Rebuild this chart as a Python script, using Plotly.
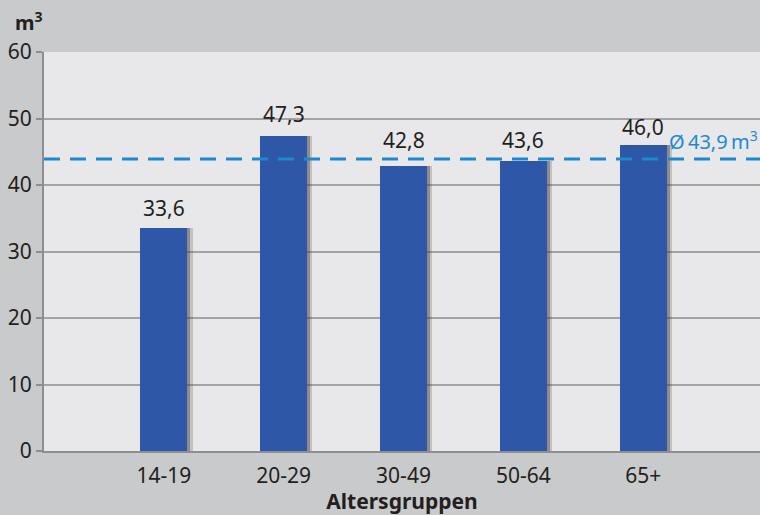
import plotly.graph_objects as go

categories = ["14-19", "20-29", "30-49", "50-64", "65+"]
values = [33.6, 47.3, 42.8, 43.6, 46.0]
labels = ["33,6", "47,3", "42,8", "43,6", "46,0"]
average = 43.9
average_label = "Ø\u200943,9\u2009m<sup>3</sup>"
y_ticks = [0, 10, 20, 30, 40, 50, 60]

# style: pixel gap between bar top and its value label
label_gaps_px = [4, 6, 10, 5, 2]

FONT = "Noto Sans"
BAR_W = 0.39

fig = go.Figure()
# soft shadow (two layers)
fig.add_trace(go.Bar(
    x=categories, y=values, width=BAR_W, offset=-BAR_W / 2 + 0.045,
    marker=dict(color="rgba(60,60,60,0.22)", line=dict(width=0)),
    hoverinfo="skip", showlegend=False,
))
fig.add_trace(go.Bar(
    x=categories, y=values, width=BAR_W, offset=-BAR_W / 2 + 0.025,
    marker=dict(color="rgba(60,60,60,0.40)", line=dict(width=0)),
    hoverinfo="skip", showlegend=False,
))
fig.add_trace(go.Bar(
    x=categories, y=values, width=BAR_W, offset=-BAR_W / 2,
    marker=dict(color="#2f57a7", line=dict(width=0)),
    showlegend=False,
))

for cat, val, lab, gap in zip(categories, values, labels, label_gaps_px):
    fig.add_annotation(x=cat, y=val, xref="x", yref="y", text=lab, showarrow=False,
                       yanchor="bottom", yshift=gap,
                       font=dict(family=FONT, size=21, color="#231f20"))

fig.add_shape(type="line", xref="paper", x0=0, x1=1, yref="y", y0=average, y1=average,
              line=dict(color="#1d8ad0", width=3, dash="16px,10px"), layer="above")
fig.add_annotation(xref="paper", x=1, xanchor="right", yref="y", y=average, yanchor="bottom",
                   yshift=2, text=average_label, showarrow=False,
                   font=dict(family=FONT, size=20, color="#1d8ad0"))

fig.add_annotation(xref="paper", x=-0.043, xanchor="left", yref="paper", y=1.0, yanchor="bottom",
                   yshift=14, text="<b>m<sup>3</sup></b>", showarrow=False,
                   font=dict(family=FONT, size=20, color="#231f20"))

fig.update_layout(
    width=760, height=515,
    margin=dict(l=44, r=0, t=52, b=64),
    paper_bgcolor="#c9cacb",
    plot_bgcolor="#e8e8ea",
    barmode="overlay",
    bargap=0,
    font=dict(family=FONT, size=21, color="#231f20"),
    xaxis=dict(
        type="category", range=[-1.0, 4.975],
        showline=True, linecolor="#8e8e8e", linewidth=2,
        showgrid=False, ticks="outside", ticklen=5, tickcolor="rgba(0,0,0,0)",
        tickfont=dict(family=FONT, size=21, color="#231f20"),
        title=dict(text="<b>Altersgruppen</b>", standoff=2,
                   font=dict(family=FONT, size=21, color="#231f20")),
    ),
    yaxis=dict(
        range=[0, 60], tickvals=y_ticks,
        showline=True, linecolor="#8e8e8e", linewidth=2,
        showgrid=True, gridcolor="#a3a3a3", gridwidth=1.5,
        ticks="outside", ticklen=6, tickcolor="#8e8e8e", tickwidth=2,
        tickfont=dict(family=FONT, size=21, color="#231f20"),
        zeroline=False,
    ),
)

fig.write_html("out.html")
